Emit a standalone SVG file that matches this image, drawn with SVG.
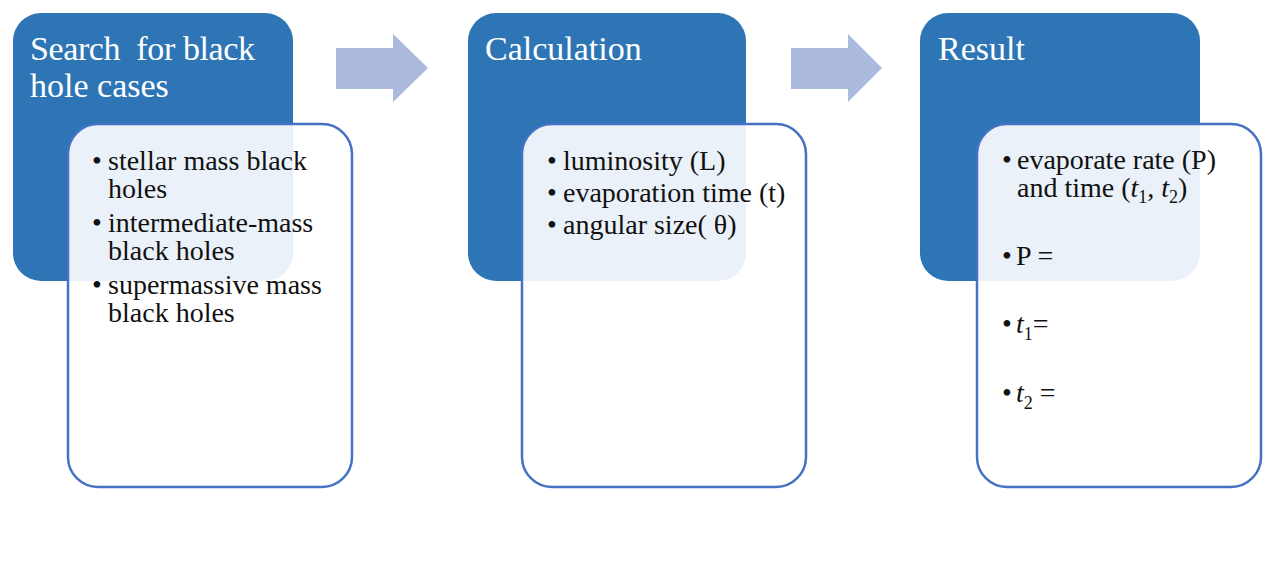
<svg xmlns="http://www.w3.org/2000/svg" width="1284" height="576" viewBox="0 0 1284 576">
<style>
.dark{fill:#2E75B6;}
.card{fill:#FFFFFF;fill-opacity:0.9;stroke:#4472C4;stroke-width:2.5;}
.title{font-family:"Liberation Serif","Times New Roman",serif;font-size:34px;fill:#FFFFFF;}
.body{font-family:"Liberation Serif","Times New Roman",serif;font-size:28px;fill:#111111;}
.arrow{fill:#ABB9DC;}
.it{font-style:italic;}
.sub{font-size:18px;}
</style>
<rect width="1284" height="576" fill="#FFFFFF"/>
<g id="connectors">
<polygon class="arrow" points="336,48 393,48 393,34 428,68 393,102 393,89 336,89"/>
<polygon class="arrow" points="791,48 848,48 848,34 882,68 848,102 848,89 791,89"/>
</g>
<g id="node-search">
<rect class="dark" x="13" y="13" width="280" height="268" rx="28"/>
<text class="title" x="30" y="60" xml:space="preserve" textLength="225" lengthAdjust="spacing">Search  for black</text>
<text class="title" x="30" y="97">hole cases</text>
<rect class="card" x="68" y="124" width="284" height="363" rx="30"/>
<g class="body">
<text x="92" y="170">•</text><text x="108" y="170">stellar mass black</text>
<text x="108" y="198">holes</text>
<text x="92" y="232">•</text><text x="108" y="232">intermediate-mass</text>
<text x="108" y="260">black holes</text>
<text x="92" y="294">•</text><text x="108" y="294">supermassive mass</text>
<text x="108" y="322">black holes</text>
</g>
</g>
<g id="node-calculation">
<rect class="dark" x="468" y="13" width="278" height="268" rx="28"/>
<text class="title" x="485" y="60">Calculation</text>
<rect class="card" x="522" y="124" width="284" height="363" rx="30"/>
<g class="body">
<text x="547" y="170">•</text><text x="563" y="170">luminosity (L)</text>
<text x="547" y="202">•</text><text x="563" y="202">evaporation time (t)</text>
<text x="547" y="234">•</text><text x="563" y="234">angular size( θ)</text>
</g>
</g>
<g id="node-result">
<rect class="dark" x="920" y="13" width="280" height="268" rx="28"/>
<text class="title" x="938" y="60">Result</text>
<rect class="card" x="977" y="124" width="284" height="363" rx="30"/>
<g class="body">
<text x="1002" y="169">•</text><text x="1017" y="169">evaporate rate (P)</text>
<text x="1017" y="197">and time (<tspan class="it">t</tspan><tspan class="sub" dy="6">1</tspan><tspan dy="-6">, </tspan><tspan class="it">t</tspan><tspan class="sub" dy="6">2</tspan><tspan dy="-6">)</tspan></text>
<text x="1002" y="265">•</text><text x="1016" y="265">P =</text>
<text x="1002" y="333">•</text><text x="1016" y="333"><tspan class="it">t</tspan><tspan class="sub" dy="7">1</tspan><tspan dy="-7">=</tspan></text>
<text x="1002" y="402">•</text><text x="1016" y="402"><tspan class="it">t</tspan><tspan class="sub" dy="7">2</tspan><tspan dy="-7"> =</tspan></text>
</g>
</g>
</svg>
